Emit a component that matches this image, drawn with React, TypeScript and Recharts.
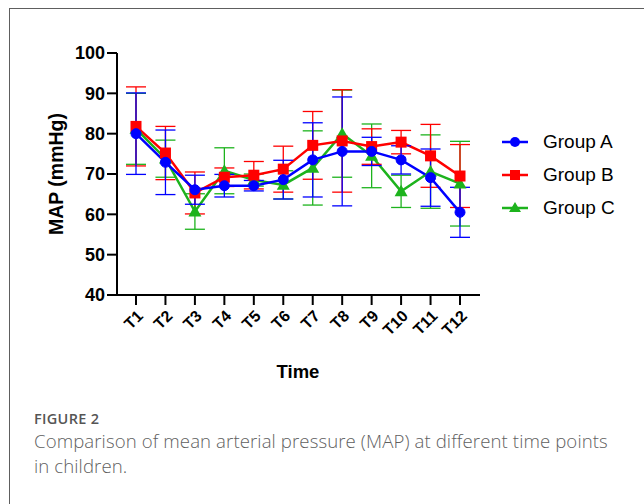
import React from 'react';
import { LineChart, Line, XAxis, YAxis, ErrorBar } from 'recharts';

const times = ['T1', 'T2', 'T3', 'T4', 'T5', 'T6', 'T7', 'T8', 'T9', 'T10', 'T11', 'T12'];

const groupA = [80.0, 72.9, 66.1, 67.1, 67.1, 68.6, 73.5, 75.6, 75.6, 73.5, 69.1, 60.5];
const groupASd = [10.1, 8.0, 3.6, 2.8, 1.3, 4.8, 9.2, 13.5, 3.5, 3.5, 7.1, 6.2];

const groupB = [81.8, 75.2, 65.3, 69.2, 69.7, 71.2, 77.1, 78.2, 76.8, 77.9, 74.5, 69.5];
const groupBSd = [9.8, 6.6, 5.2, 2.3, 3.4, 5.7, 8.4, 12.7, 4.4, 2.9, 7.8, 7.8];

const groupC = [81.2, 73.8, 60.7, 70.8, 68.5, 67.3, 71.5, 80.0, 74.5, 65.7, 70.6, 67.6];
const groupCSd = [8.8, 4.6, 4.4, 5.7, 1.5, 3.5, 9.2, 10.8, 7.9, 4.0, 9.1, 10.5];

const yTicks = [40, 50, 60, 70, 80, 90, 100];

const captionLines = [
  'Comparison of mean arterial pressure (MAP) at different time points',
  'in children.',
];

const BLUE = '#0000ff';
const RED = '#ff0000';
const GREEN = '#1db31d';

const chartData = times.map((t, i) => ({
  time: t,
  a: groupA[i],
  aSd: groupASd[i],
  b: groupB[i],
  bSd: groupBSd[i],
  c: groupC[i],
  cSd: groupCSd[i],
}));

const axisFont = '"Liberation Sans", Arial, sans-serif';

const SquareDot = (props: any) => {
  const { cx, cy, index } = props;
  if (cx == null || cy == null) return null;
  return <rect key={`sq-${index}`} x={cx - 5.5} y={cy - 5.5} width={11} height={11} fill={RED} />;
};

const TriangleDot = (props: any) => {
  const { cx, cy, index } = props;
  if (cx == null || cy == null) return null;
  const s = 6.5;
  return (
    <polygon
      key={`tr-${index}`}
      points={`${cx},${cy - s} ${cx + s},${cy + s * 0.75} ${cx - s},${cy + s * 0.75}`}
      fill={GREEN}
    />
  );
};

const XTick = (props: any) => {
  const { x, y, payload } = props;
  const tx = x + 8;
  const ty = y + 10;
  return (
    <text
      x={tx}
      y={ty}
      transform={`rotate(-45, ${tx}, ${ty})`}
      textAnchor="end"
      fontFamily={axisFont}
      fontWeight="bold"
      fontSize={16}
      fill="#000"
    >
      {payload.value}
    </text>
  );
};

const legendItems = [
  { name: 'Group A', color: BLUE, shape: 'circle' },
  { name: 'Group B', color: RED, shape: 'square' },
  { name: 'Group C', color: GREEN, shape: 'triangle' },
];

function LegendIcon({ color, shape }: { color: string; shape: string }) {
  return (
    <svg width={28} height={14} style={{ display: 'block' }}>
      <line x1={1} y1={7} x2={27} y2={7} stroke={color} strokeWidth={2.5} />
      {shape === 'circle' && <circle cx={14} cy={7} r={5} fill={color} />}
      {shape === 'square' && <rect x={9} y={2} width={10} height={10} fill={color} />}
      {shape === 'triangle' && <polygon points="14,1 20,11 8,11" fill={color} />}
    </svg>
  );
}

export default function App() {
  return (
    <div
      style={{
        position: 'absolute',
        left: 0,
        top: 0,
        width: 644,
        height: 504,
        background: '#fff',
        overflow: 'hidden',
      }}
    >
      <div
        style={{
          position: 'absolute',
          left: 9,
          top: 8,
          width: 700,
          height: 600,
          border: '1px solid #5e5e5e',
        }}
      />
      <div style={{ position: 'absolute', left: 0, top: 0 }}>
        <LineChart
          width={644}
          height={400}
          data={chartData}
          margin={{ top: 53, right: 164, left: 0, bottom: 0 }}
        >
          <XAxis
            dataKey="time"
            height={105}
            padding={{ left: 19, right: 20 }}
            axisLine={{ stroke: '#000', strokeWidth: 2 }}
            tickLine={{ stroke: '#000', strokeWidth: 2 }}
            tickSize={10}
            tick={<XTick />}
            interval={0}
            label={() => (
              <text
                x={298}
                y={378}
                textAnchor="middle"
                fontFamily={axisFont}
                fontWeight="bold"
                fontSize={18.5}
                fill="#000"
              >
                Time
              </text>
            )}
          />
          <YAxis
            width={117}
            type="number"
            domain={[40, 100]}
            ticks={yTicks}
            allowDataOverflow
            axisLine={{ stroke: '#000', strokeWidth: 2 }}
            tickLine={{ stroke: '#000', strokeWidth: 2 }}
            tickSize={10}
            tick={{ fontFamily: axisFont, fontWeight: 'bold', fontSize: 18, fill: '#000' }}
            label={() => (
              <text
                x={63}
                y={174}
                transform="rotate(-90, 63, 174)"
                textAnchor="middle"
                fontFamily={axisFont}
                fontWeight="bold"
                fontSize={19.5}
                fill="#000"
              >
                MAP (mmHg)
              </text>
            )}
          />
          <Line
            dataKey="c"
            stroke={GREEN}
            strokeWidth={2.5}
            dot={<TriangleDot />}
            activeDot={false}
            isAnimationActive={false}
          >
            <ErrorBar dataKey="cSd" width={10} stroke={GREEN} strokeWidth={1.3} isAnimationActive={false} />
          </Line>
          <Line
            dataKey="b"
            stroke={RED}
            strokeWidth={2.5}
            dot={<SquareDot />}
            activeDot={false}
            isAnimationActive={false}
          >
            <ErrorBar dataKey="bSd" width={10} stroke={RED} strokeWidth={1.3} isAnimationActive={false} />
          </Line>
          <Line
            dataKey="a"
            stroke={BLUE}
            strokeWidth={2.5}
            dot={{ r: 5, fill: BLUE, stroke: BLUE, strokeWidth: 1 }}
            activeDot={false}
            isAnimationActive={false}
          >
            <ErrorBar dataKey="aSd" width={10} stroke={BLUE} strokeWidth={1.3} isAnimationActive={false} />
          </Line>
        </LineChart>
      </div>
      {legendItems.map((item, i) => (
        <div
          key={item.name}
          style={{
            position: 'absolute',
            left: 501,
            top: 131 + i * 33,
            height: 22,
            display: 'flex',
            alignItems: 'center',
            fontFamily: axisFont,
            fontSize: 19,
            color: '#000',
          }}
        >
          <LegendIcon color={item.color} shape={item.shape} />
          <span style={{ marginLeft: 14 }}>{item.name}</span>
        </div>
      ))}
      <div
        style={{
          position: 'absolute',
          left: 34,
          top: 409,
          fontFamily: '"Open Sans", sans-serif',
          fontWeight: 600,
          fontSize: 14.5,
          color: '#555',
          letterSpacing: 0.3,
        }}
      >
        FIGURE 2
      </div>
      {captionLines.map((line, i) => (
        <div
          key={i}
          style={{
            position: 'absolute',
            left: 34,
            top: 431 + i * 25,
            fontFamily: '"Open Sans", sans-serif',
            fontWeight: 300,
            fontSize: 18.6,
            lineHeight: '20px',
            letterSpacing: 0.1,
            color: '#5f5f5f',
            whiteSpace: 'nowrap',
          }}
        >
          {line}
        </div>
      ))}
    </div>
  );
}
